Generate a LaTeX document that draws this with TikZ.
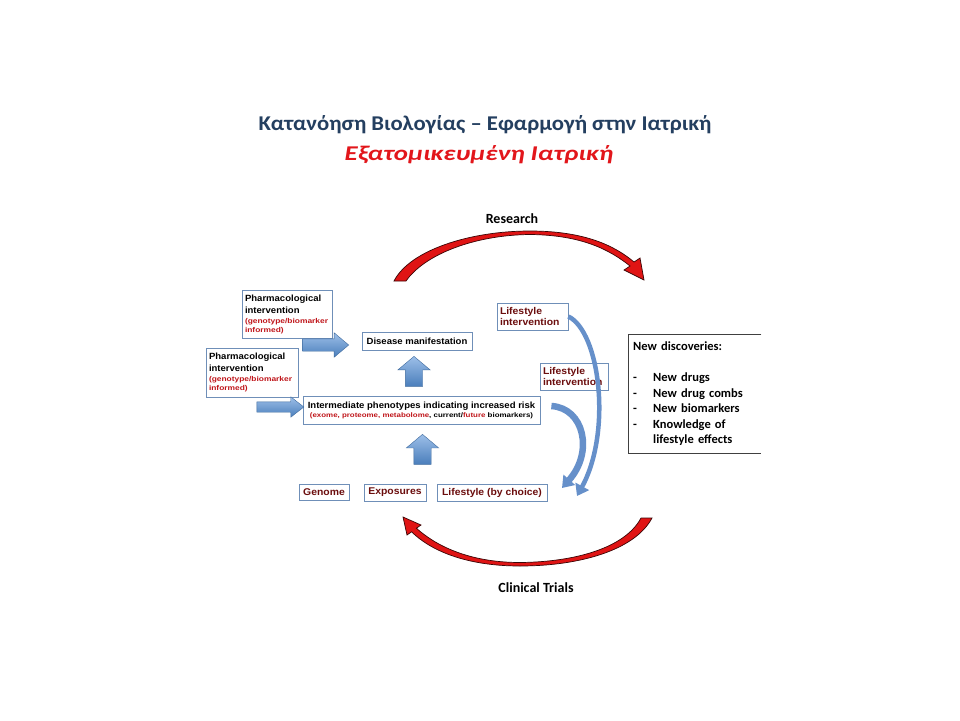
\documentclass[tikz,border=0pt]{standalone}
\usepackage{fontspec}
\setmainfont{Carlito}
\newfontfamily\titlefont[FakeStretch=1.08]{Carlito}
\newfontfamily\subtitlefont[FakeStretch=1.28]{Carlito}
\newfontfamily\boxfont[FakeStretch=1.06]{Liberation Sans}
\newfontfamily\boxsmall[FakeStretch=1.2]{Liberation Sans}
\newcommand\smallfont{\boxsmall\bfseries\fontsize{7}{8}\selectfont}
\usetikzlibrary{shapes.arrows,arrows.meta}
\definecolor{titleblue}{HTML}{243F60}
\definecolor{titlered}{HTML}{E2161B}
\definecolor{darkred}{HTML}{6B0D0D}
\definecolor{smallred}{HTML}{C0161B}
\definecolor{boxedge}{HTML}{6F8FB8}
\definecolor{arrowtop}{HTML}{9DBFE8}
\definecolor{arrowbottom}{HTML}{4A7EBB}
\definecolor{arrowedge}{HTML}{3F6B9E}
\definecolor{arcred}{HTML}{E01414}
\definecolor{arcedge}{HTML}{3A0505}
\definecolor{bendblue}{HTML}{6690CA}

\tikzset{
  labelbox/.style={draw=boxedge, line width=0.8pt, fill=white, inner sep=3pt,
    font=\boxfont\bfseries\fontsize{9}{12}\selectfont},
  redbox/.style={labelbox, text=darkred, font=\boxfont\bfseries\fontsize{9.8}{11}\selectfont},
  blockarrow/.style={single arrow, draw=arrowedge, line width=0.4pt,
    top color=arrowtop, bottom color=arrowbottom, single arrow head indent=0pt,
    minimum width=0pt},
  redarc/.style={fill=arcred, draw=arcedge, line width=0.7pt},
  bendarrow/.style={draw=bendblue, -{Triangle[length=11pt,width=15pt]}}
}

\begin{document}
\begin{tikzpicture}[x=1pt,y=-1pt]
				\useasboundingbox (0,0) rectangle (960,720);
				\fill[white] (0,0) rectangle (960,720);
				% titles
				\node[text=titleblue, font=\titlefont\bfseries\fontsize{21}{24}\selectfont] (title) at (485,125) {Κατανόηση Βιολογίας – Εφαρμογή στην Ιατρική};
				\node[text=titlered, font=\subtitlefont\bfseries\itshape\fontsize{21}{24}\selectfont] (subtitle) at (479,155) {Εξατομικευμένη Ιατρική};
				% research / clinical trials
				\node[font=\bfseries\fontsize{14}{16}\selectfont] (research) at (512,219) {Research};
				\node[font=\bfseries\fontsize{14}{16}\selectfont] (trials) at (536,588) {Clinical Trials};
				\draw[redarc] (394,281) .. controls (410,250) and (470,231) .. (530,231) .. controls (585,231) and (615,246) .. (634,262) -- (640,258) -- (644,280) -- (624,270) -- (630,266) .. controls (610,250) and (582,235) .. (530,234.5) .. controls (475,235) and (425,254) .. (406,281) -- cycle;
				\draw[redarc] (652,518) .. controls (635,550) and (580,566) .. (520,566) .. controls (465,566) and (430,550) .. (411.6,531.8) -- (407,535) -- (403,517) -- (421,525) -- (416.4,528.2) .. controls (435,545) and (468,562.5) .. (520,562.5) .. controls (575,562) and (625,548) .. (641,518) -- cycle;
				% boxes
				\node[labelbox, text width=84pt, minimum height=48pt, align=left] (pharmA) at (287,314) {Pharmacological\\intervention\\[-2pt]{\smallfont\color{smallred}(genotype/biomarker}\\[-3pt]{\smallfont\color{smallred}informed)}};
				\node[labelbox, text width=86pt, minimum height=49pt, align=left] (pharmB) at (252,372.5) {Pharmacological\\intervention\\[-2pt]{\smallfont\color{smallred}(genotype/biomarker}\\[-3pt]{\smallfont\color{smallred}informed)}};
				\node[labelbox, minimum width=110pt, minimum height=18pt] (disease) at (417,341) {Disease manifestation};
				\node[labelbox, minimum width=237pt, minimum height=28pt, align=center] (inter) at (421.5,410) {Intermediate phenotypes indicating increased risk\\[-3pt]{\boxsmall\bfseries\fontsize{6.6}{8}\selectfont{\color{smallred}(exome, proteome, metabolome}, current/{\color{smallred}future} biomarkers)}};
				\node[redbox, minimum width=50pt, minimum height=16pt] (genome) at (324,492) {Genome};
				\node[redbox, minimum width=62pt, minimum height=17pt] (expo) at (395,492.5) {Exposures};
				\node[redbox, minimum width=110pt, minimum height=17pt] (lschoice) at (492,492.5) {Lifestyle (by choice)};
				\node[redbox, text width=65pt, minimum height=27pt, align=left] (lsintA) at (532.5,316.5) {Lifestyle\\intervention};
				\node[redbox, text width=62pt, minimum height=27pt, align=left] (lsintB) at (574,376.5) {Lifestyle\\intervention};
				% new discoveries
				\node[anchor=north west, inner sep=5pt, minimum width=133pt, minimum height=119pt, text width=123pt, align=left, font=\bfseries\fontsize{12.5}{15.5}\selectfont] (newdisc) at (628,334) {New discoveries:\\[15.5pt]\makebox[20pt][l]{-}New drugs\\\makebox[20pt][l]{-}New drug combs\\\makebox[20pt][l]{-}New biomarkers\\\makebox[20pt][l]{-}Knowledge of\\\makebox[20pt][l]{}lifestyle effects};
				\draw[line width=0.8pt, black!75] (newdisc.north east) -- (newdisc.north west) -- (newdisc.south west) -- (newdisc.south east);
				% block arrows
				\node[blockarrow, inner sep=6pt, minimum height=46pt, single arrow head extend=6pt, single arrow tip angle=80] (arrA) at (322,345) {};
				\node[blockarrow, inner sep=5pt, minimum height=47pt, single arrow head extend=5pt, single arrow tip angle=76] (arrB) at (277,407) {};
				\node[blockarrow, shape border rotate=90, inner sep=8.5pt, minimum height=30pt, single arrow head extend=7.5pt, single arrow tip angle=100] (upA) at (414,375) {};
				\node[blockarrow, shape border rotate=90, inner sep=8.5pt, minimum height=30pt, single arrow head extend=7.5pt, single arrow tip angle=100] (upB) at (422.5,453) {};
				% bent arrows
				\coordinate (endA) at (577,496);
				\coordinate (endB) at (562,488);
				\draw[bendarrow, line width=4.5pt] (lsintA.east) .. controls (600,332) and (612,432) .. (endA);
				\draw[bendarrow, line width=6.5pt] ([xshift=11pt,yshift=4pt]inter.east) .. controls (584,408) and (594,452) .. (endB);
			\end{tikzpicture}
\end{document}
